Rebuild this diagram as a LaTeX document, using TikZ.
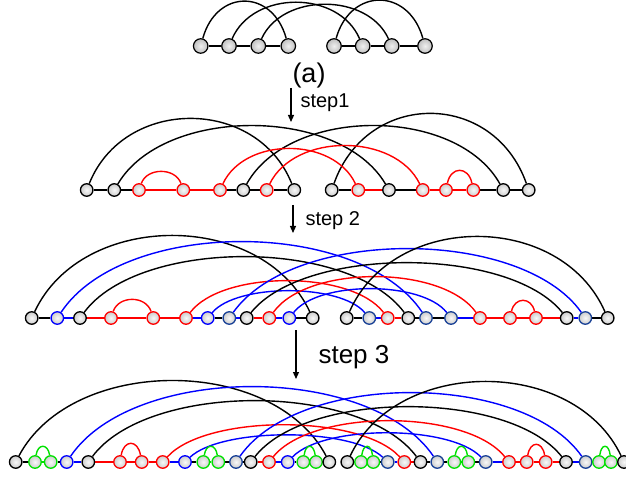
\documentclass[tikz,border=0pt]{standalone}
\usepackage{fontspec}
\setmainfont{Liberation Sans}
\usetikzlibrary{calc,arrows.meta}
\pgfdeclarelayer{bg}
\pgfsetlayers{bg,main}
\definecolor{cred}{RGB}{255,0,0}
\definecolor{cblue}{RGB}{0,0,255}
\definecolor{cdblue}{RGB}{25,65,150}
\definecolor{cgreen}{RGB}{0,225,0}
\tikzset{
  base/.style={circle, line width=1.3pt, minimum size=12.5pt, inner sep=0pt, inner color=gray!5, outer color=gray!40},
  ga/.style={circle, draw=black, line width=1.2pt, minimum size=14.5pt, inner sep=0pt, inner color=gray!12, outer color=gray!50},
  bk/.style={base, draw=black},
  rd/.style={base, draw=cred},
  bl/.style={base, draw=cblue},
  db/.style={base, draw=cdblue},
  gn/.style={base, draw=cgreen},
  lk/.style={line width=1.4pt, black},
  lr/.style={line width=1.4pt, cred},
  lb/.style={line width=1.4pt, cblue},
  lg/.style={line width=1.4pt, cgreen},
  arr/.style={line width=1.2pt, -{Triangle[length=7pt,width=6pt]}},
}
\newcommand\arcx[4]{%
  \draw[#1] let \p1=(#2), \p2=(#3), \n1={0.18*(\x2-\x1)} in
    (#2) .. controls +(\n1,{-1.3333*#4}) and +(-\n1,{-1.3333*#4}) .. (#3);}
\begin{document}
\begin{tikzpicture}[x=1pt,y=-1pt]
\useasboundingbox (0,0) rectangle (626,478);
% ---------- row (a)
\foreach \n/\x in {a1/200.7,a2/229,a3/258.3,a4/288.3,a5/334,a6/362.7,a7/391.7,a8/425}
  \node[ga] (\n) at (\x,46) {};
% ---------- row 2
\node[bk] (A1) at (86.7,190) {};
\node[bk] (A2) at (114.3,190) {};
\node[rd] (R1) at (139,190) {};
\node[rd] (R2) at (183.3,190) {};
\node[rd] (R3) at (220,190) {};
\node[bk] (A3) at (243.3,190) {};
\node[rd] (R4) at (266.7,190) {};
\node[bk] (A4) at (294.3,190) {};
\node[bk] (B1) at (331.7,190) {};
\node[rd] (R5) at (358.3,190) {};
\node[bk] (B2) at (389,190) {};
\node[rd] (R6) at (422.7,190) {};
\node[rd] (R7) at (446,190) {};
\node[rd] (R8) at (473.3,190) {};
\node[bk] (B3) at (503.3,190) {};
\node[bk] (B4) at (528.7,190) {};
% ---------- row 3
\node[bk] (C1) at (31.7,318) {};
\node[bl] (C2) at (57.3,318) {};
\node[bk] (C3) at (80,318) {};
\node[rd] (C4) at (111,318) {};
\node[rd] (C5) at (153.3,318) {};
\node[rd] (C6) at (186,318) {};
\node[bl] (C7) at (207.7,318) {};
\node[db] (C8) at (229.3,318) {};
\node[bk] (C9) at (246.7,318) {};
\node[rd] (C10) at (269.3,318) {};
\node[bl] (C11) at (289.3,318) {};
\node[bk] (C12) at (312.7,318) {};
\node[bk] (D1) at (346.7,318) {};
\node[db] (D2) at (369.3,318) {};
\node[rd] (D3) at (387.7,318) {};
\node[bk] (D4) at (408.3,318) {};
\node[db] (D5) at (426,318) {};
\node[db] (D6) at (451,318) {};
\node[rd] (D7) at (480,318) {};
\node[rd] (D8) at (510,318) {};
\node[rd] (D9) at (536,318) {};
\node[bk] (D10) at (566.7,318) {};
\node[db] (D11) at (585.3,318) {};
\node[bk] (D12) at (607.7,318) {};
% ---------- row 4
\node[bk] (E1) at (15.7,462) {};
\node[gn] (E2) at (35,462) {};
\node[gn] (E3) at (50.7,462) {};
\node[bl] (E4) at (66.7,462) {};
\node[bk] (E5) at (88.3,462) {};
\node[rd] (E6) at (120,462) {};
\node[rd] (E7) at (141.7,462) {};
\node[rd] (E8) at (162.7,462) {};
\node[bl] (E9) at (185,462) {};
\node[gn] (E10) at (203.3,462) {};
\node[gn] (E11) at (218.3,462) {};
\node[db] (E12) at (236,462) {};
\node[bk] (E13) at (250.7,462) {};
\node[rd] (E14) at (269,462) {};
\node[bl] (E15) at (287.7,462) {};
\node[gn] (E16) at (303.3,462) {};
\node[gn] (E17) at (316,462) {};
\node[bk] (E18) at (329.3,462) {};
\node[bk] (F1) at (347.3,462) {};
\node[gn] (F2) at (361,462) {};
\node[gn] (F3) at (373.3,462) {};
\node[db] (F4) at (387.7,462) {};
\node[rd] (F5) at (404.3,462) {};
\node[bk] (F6) at (420.5,462) {};
\node[db] (F7) at (437.3,462) {};
\node[gn] (F8) at (454.3,462) {};
\node[gn] (F9) at (468.3,462) {};
\node[db] (F10) at (485.7,462) {};
\node[rd] (F11) at (509,462) {};
\node[rd] (F12) at (526.7,462) {};
\node[rd] (F13) at (545.7,462) {};
\node[bk] (F14) at (566,462) {};
\node[db] (F15) at (585.7,462) {};
\node[gn] (F16) at (599,462) {};
\node[gn] (F17) at (611,462) {};
\node[bk] (F18) at (624,462) {};
% ---------- labels and arrows
\node[font=\fontsize{27}{30}\selectfont] (lab) at (309,76) {(a)};
\node[anchor=west, font=\fontsize{20}{23}\selectfont] (s1) at (297,103) {step1};
\node[anchor=west, font=\fontsize{20}{23}\selectfont] (s2) at (302,221) {step 2};
\node[anchor=west, font=\fontsize{26}{29}\selectfont] (s3) at (315,357) {step 3};
\coordinate (t1) at (291,88);  \coordinate (h1) at (291,122);
\coordinate (t2) at (293,205); \coordinate (h2) at (293,233);
\coordinate (t3) at (296,330); \coordinate (h3) at (296,379);
\draw[arr] (t1) -- (h1);
\draw[arr] (t2) -- (h2);
\draw[arr] (t3) -- (h3);
\begin{pgfonlayer}{bg}
% row (a)
\draw[lk] (a1) -- (a2) -- (a3) -- (a4);
\draw[lk] (a5) -- (a6) -- (a7) -- (a8);
\arcx{lk}{a1}{a4}{43}
\arcx{lk}{a2}{a6}{42}
\arcx{lk}{a3}{a7}{40}
\arcx{lk}{a5}{a8}{44}
% row 2 chain
\draw[lk] (A1) -- (A2); \draw[lk] (A2) -- (R1); \draw[lr] (R1) -- (R2); \draw[lr] (R2) -- (R3);
\draw[lk] (R3) -- (A3); \draw[lk] (A3) -- (R4); \draw[lk] (R4) -- (A4);
\draw[lk] (B1) -- (R5); \draw[lr] (R5) -- (B2); \draw[lk] (B2) -- (R6); \draw[lr] (R6) -- (R7);
\draw[lr] (R7) -- (R8); \draw[lk] (R8) -- (B3); \draw[lk] (B3) -- (B4);
% row 2 arcs
\arcx{lk}{A1}{A4}{70}
\arcx{lk}{A2}{B2}{63}
\arcx{lk}{A3}{B3}{63}
\arcx{lk}{B1}{B4}{75}
\arcx{lr}{R1}{R2}{17}
\arcx{lr}{R3}{R5}{40}
\arcx{lr}{R4}{R6}{43}
\arcx{lr}{R7}{R8}{18}
% row 3 chain
\draw[lk] (C1) -- (C2); \draw[lb] (C2) -- (C3); \draw[lr] (C3) -- (C4); \draw[lr] (C4) -- (C5);
\draw[lr] (C5) -- (C6); \draw[lb] (C6) -- (C7); \draw[lk] (C7) -- (C8); \draw[lb] (C8) -- (C9);
\draw[lr] (C9) -- (C10); \draw[lb] (C10) -- (C11); \draw[lk] (C11) -- (C12);
\draw[lk] (D1) -- (D2); \draw[lb] (D2) -- (D3); \draw[lr] (D3) -- (D4); \draw[lk] (D4) -- (D5);
\draw[lk] (D5) -- (D6); \draw[lb] (D6) -- (D7); \draw[lr] (D7) -- (D8); \draw[lr] (D8) -- (D9);
\draw[lr] (D9) -- (D10); \draw[lb] (D10) -- (D11); \draw[lk] (D11) -- (D12);
% row 3 arcs
\arcx{lk}{C1}{C12}{81}
\arcx{lb}{C2}{D5}{75}
\arcx{lk}{C3}{D4}{60}
\arcx{lr}{C4}{C5}{17}
\arcx{lr}{C6}{D3}{36}
\arcx{lb}{C7}{D2}{26}
\arcx{lb}{C8}{D11}{68}
\arcx{lk}{C9}{D10}{54}
\arcx{lr}{C10}{D7}{40}
\arcx{lb}{C11}{D6}{28}
\arcx{lk}{D1}{D12}{80}
\arcx{lr}{D8}{D9}{16}
% row 4 chain
\draw[lk] (E1) -- (E2); \draw[lg] (E2) -- (E3); \draw[lk] (E3) -- (E4); \draw[lb] (E4) -- (E5);
\draw[lr] (E5) -- (E6); \draw[lr] (E6) -- (E7); \draw[lr] (E7) -- (E8); \draw[lb] (E8) -- (E9);
\draw[lk] (E9) -- (E10); \draw[lg] (E10) -- (E11); \draw[lk] (E11) -- (E12); \draw[lk] (E12) -- (E13);
\draw[lr] (E13) -- (E14); \draw[lb] (E14) -- (E15); \draw[lk] (E15) -- (E16); \draw[lg] (E16) -- (E17);
\draw[lk] (E17) -- (E18);
\draw[lk] (F1) -- (F2); \draw[lg] (F2) -- (F3); \draw[lk] (F3) -- (F4); \draw[lb] (F4) -- (F5);
\draw[lr] (F5) -- (F6); \draw[lk] (F6) -- (F7); \draw[lk] (F7) -- (F8); \draw[lg] (F8) -- (F9);
\draw[lk] (F9) -- (F10); \draw[lb] (F10) -- (F11); \draw[lr] (F11) -- (F12); \draw[lr] (F12) -- (F13);
\draw[lr] (F13) -- (F14); \draw[lb] (F14) -- (F15); \draw[lk] (F15) -- (F16); \draw[lg] (F16) -- (F17);
\draw[lk] (F17) -- (F18);
% row 4 arcs
\arcx{lk}{E1}{E18}{80}
\arcx{lb}{E4}{F7}{74}
\arcx{lk}{E5}{F6}{60}
\arcx{lr}{E6}{E7}{17}
\arcx{lr}{E8}{F5}{36}
\arcx{lb}{E9}{F4}{26}
\arcx{lb}{E12}{F15}{68}
\arcx{lk}{E13}{F14}{54}
\arcx{lr}{E14}{F11}{40}
\arcx{lb}{E15}{F10}{28}
\arcx{lk}{F1}{F18}{79}
\arcx{lr}{F12}{F13}{16}
\arcx{lg}{E2}{E3}{14}
\arcx{lg}{E10}{E11}{14}
\arcx{lg}{E16}{E17}{14}
\arcx{lg}{F2}{F3}{14}
\arcx{lg}{F8}{F9}{14}
\arcx{lg}{F16}{F17}{14}
\end{pgfonlayer}
\end{tikzpicture}
\end{document}
